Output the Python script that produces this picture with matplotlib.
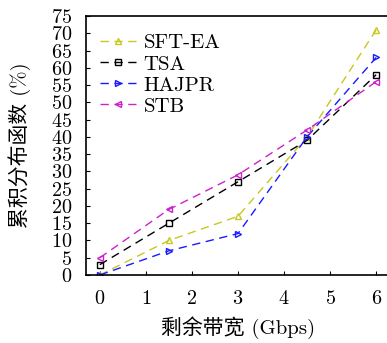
import matplotlib
matplotlib.use("Agg")
import matplotlib.pyplot as plt

x = [0, 1.5, 3, 4.5, 6]
sft_ea = [0, 10, 17, 40, 71]
tsa = [3, 15, 27, 39, 58]
hajpr = [0, 7, 12, 40, 63]
stb = [5, 19, 29, 42, 56]
xticks = [0, 1, 2, 3, 4, 5, 6]
yticks = list(range(0, 80, 5))

plt.rcParams['font.family'] = ['cmr10', 'Noto Sans CJK SC', 'DejaVu Sans']
plt.rcParams['axes.formatter.use_mathtext'] = True

fig = plt.figure(figsize=(3.87, 3.43), dpi=100)
ax = fig.add_axes([86/387, 1-275/343, (390-86)/387, (275-16)/343])

series = [
    ("SFT-EA", sft_ea, "#c8c81e", "^"),
    ("TSA", tsa, "black", "s"),
    ("HAJPR", hajpr, "#1a1aff", ">"),
    ("STB", stb, "#cc22cc", "<"),
]
for name, ys, c, m in series:
    ax.plot(x, ys, color=c, linestyle=(0, (6, 4)), linewidth=1.0,
            marker=m, markersize=5, markerfacecolor='none',
            markeredgecolor=c, markeredgewidth=1.0, label=name)

ax.set_xlim(-0.3, 6.3)
ax.set_ylim(0, 75)
ax.set_xticks(xticks)
ax.set_yticks(yticks)
ax.tick_params(direction='in', length=3, labelsize=14.5, width=0.8)
ax.tick_params(axis='x', pad=11)
ax.tick_params(axis='y', pad=10)
for s in ax.spines.values():
    s.set_linewidth(1.2)

ax.set_xlabel("剩余带宽 (Gbps)", fontsize=15, labelpad=6)
ax.set_ylabel("累积分布函数 (%)", fontsize=15, labelpad=14)

leg = ax.legend(loc='upper left', frameon=False, fontsize=15,
                handlelength=1.75, handletextpad=0.35, labelspacing=0.12,
                borderaxespad=0.27, bbox_to_anchor=(0.0, 0.985))

fig.savefig("out.png", dpi=100)
